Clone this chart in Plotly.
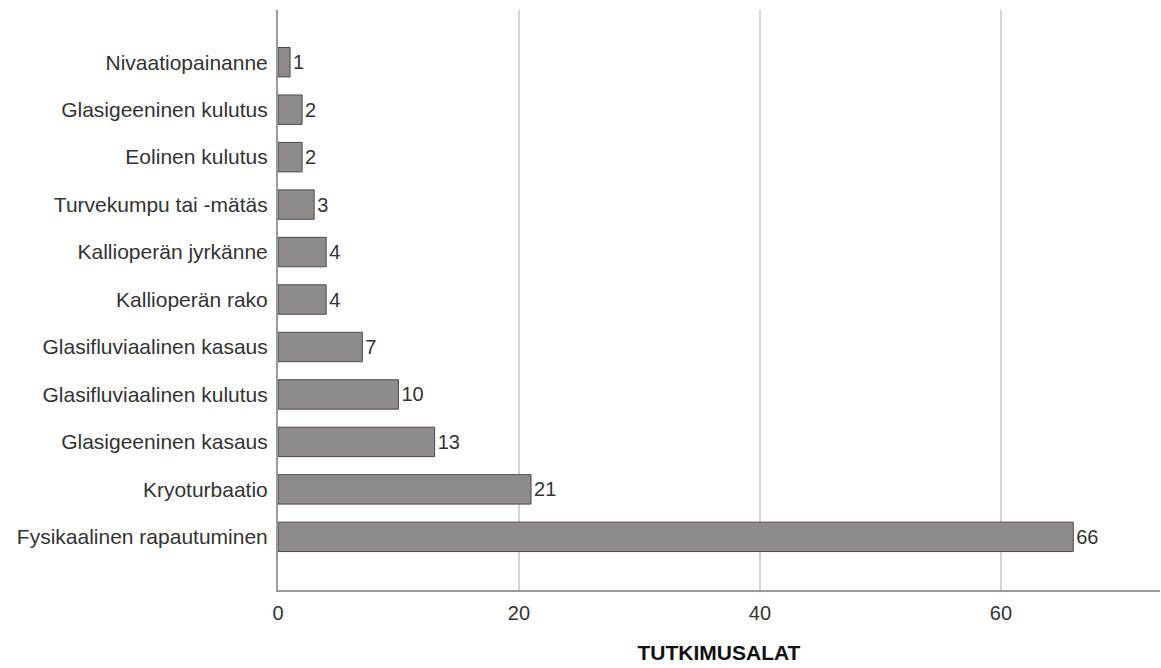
import plotly.graph_objects as go

# Categories listed bottom-to-top as they appear on the y axis
categories = [
    "Fysikaalinen rapautuminen",
    "Kryoturbaatio",
    "Glasigeeninen kasaus",
    "Glasifluviaalinen kulutus",
    "Glasifluviaalinen kasaus",
    "Kallioperän rako",
    "Kallioperän jyrkänne",
    "Turvekumpu tai -mätäs",
    "Eolinen kulutus",
    "Glasigeeninen kulutus",
    "Nivaatiopainanne",
]
counts = [66, 21, 13, 10, 7, 4, 4, 3, 2, 2, 1]
x_ticks = [0, 20, 40, 60]

FONT = "Liberation Sans, Arial, sans-serif"

fig = go.Figure(
    go.Bar(
        x=counts,
        y=categories,
        orientation="h",
        width=0.62,
        marker=dict(color="#8f8b8b", line=dict(color="#4a4a4a", width=1)),
        text=[str(v) for v in counts],
        textposition="outside",
        cliponaxis=False,
        textfont=dict(family=FONT, size=20, color="#333333"),
    )
)

fig.update_layout(
    width=1161,
    height=668,
    margin=dict(l=278, r=1, t=10, b=78, autoexpand=False),
    plot_bgcolor="white",
    paper_bgcolor="white",
    font=dict(family=FONT, size=21, color="#333333"),
    showlegend=False,
)

fig.update_xaxes(
    range=[0, 73.2],
    tickvals=x_ticks,
    ticktext=[str(t) for t in x_ticks],
    showgrid=True,
    gridcolor="#d4d4d4",
    gridwidth=2,
    zeroline=False,
    showline=True,
    linecolor="#9a9a9a",
    linewidth=2,
    ticks="outside",
    tickcolor="rgba(0,0,0,0)",
    ticklen=4,
    automargin=False,
    tickfont=dict(size=20, color="#333333"),
    title=dict(
        text="<b>TUTKIMUSALAT</b>",
        font=dict(size=21, color="#111111"),
        standoff=22,
    ),
)

fig.update_yaxes(
    range=[-1.12, 11.1],
    showgrid=False,
    zeroline=False,
    showline=True,
    linecolor="#9a9a9a",
    linewidth=2,
    ticks="outside",
    tickcolor="rgba(0,0,0,0)",
    ticklen=4,
    automargin=False,
    tickfont=dict(size=21, color="#333333"),
)

fig.write_html("out.html")
